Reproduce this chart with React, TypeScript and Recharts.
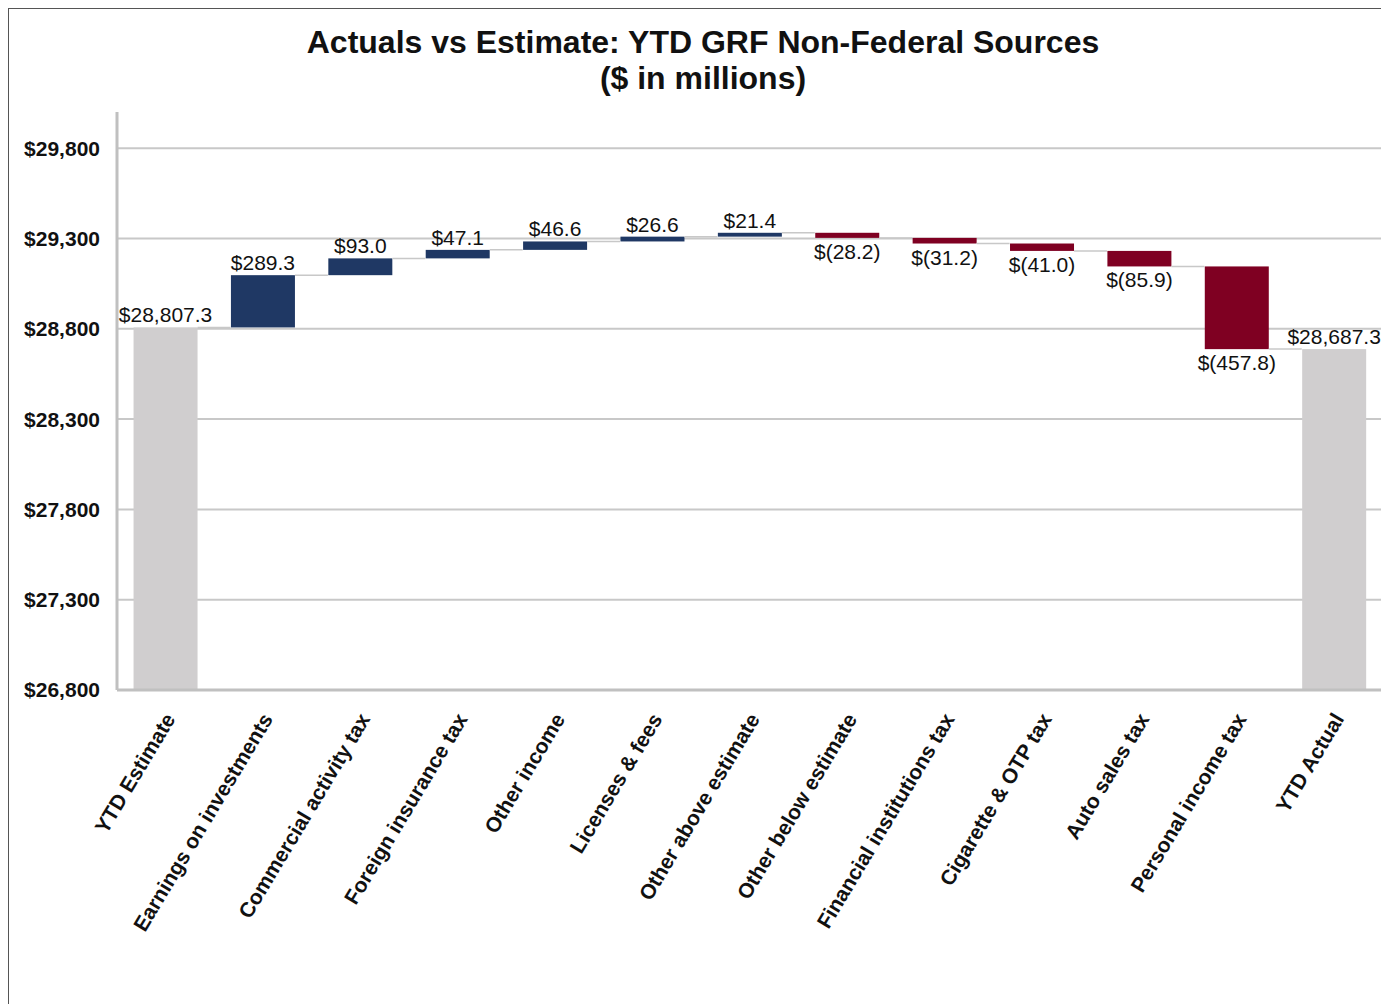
import React from 'react';
import { BarChart, Bar, XAxis, YAxis, CartesianGrid, LabelList, Cell } from 'recharts';

const categories = [
  'YTD Estimate',
  'Earnings on investments',
  'Commercial activity tax',
  'Foreign insurance tax',
  'Other income',
  'Licenses & fees',
  'Other above estimate',
  'Other below estimate',
  'Financial institutions tax',
  'Cigarette & OTP tax',
  'Auto sales tax',
  'Personal income tax',
  'YTD Actual',
];

// first and last are totals, the rest are changes
const values = [28807.3, 289.3, 93.0, 47.1, 46.6, 26.6, 21.4, -28.2, -31.2, -41.0, -85.9, -457.8, 28687.3];
const isTotal = [true, false, false, false, false, false, false, false, false, false, false, false, true];

const yTicks = [26800, 27300, 27800, 28300, 28800, 29300, 29800];

const TOTAL_COLOR = '#d0cecf';
const UP_COLOR = '#1f3864';
const DOWN_COLOR = '#7f0022';
const BAND_GAP = 0.17;
const FONT = 'Liberation Sans, Arial, sans-serif';

function buildData() {
  let running = 0;
  return categories.map((name, i) => {
    const v = values[i];
    let low: number;
    let high: number;
    if (isTotal[i]) {
      low = 26800;
      high = v;
      running = v;
    } else {
      const start = running;
      running = start + v;
      low = Math.min(start, running);
      high = Math.max(start, running);
    }
    return { name, value: v, total: isTotal[i], range: [low, high], last: i === categories.length - 1 };
  });
}

const data = buildData();

function fmt(v: number, total: boolean) {
  const s = Math.abs(v).toLocaleString('en-US', { minimumFractionDigits: 1, maximumFractionDigits: 1 });
  if (total || v >= 0) return '$' + s;
  return '$(' + s + ')';
}

const WaterfallShape = (props: any) => {
  const { x, y, width, height, payload, fill } = props;
  const up = payload.total || payload.value >= 0;
  const endY = up ? y : y + height;
  const gap = (width * 2 * BAND_GAP) / (1 - 2 * BAND_GAP);
  // totals sink a little below the axis line, like the original
  const extra = payload.total ? 4 : 0;
  return (
    <g>
      <rect x={x} y={y} width={width} height={height + extra} fill={fill} />
      {!payload.last && (
        <line x1={x + width} x2={x + width + gap} y1={endY} y2={endY} stroke="#c8c8c8" strokeWidth={1.5} />
      )}
    </g>
  );
};

const ValueLabel = (props: any) => {
  const { x, y, width, height, index } = props;
  const d = data[index];
  const up = d.total || d.value >= 0;
  const ty = up ? y - 5 : y + height + 21;
  return (
    <text x={x + width / 2} y={ty} textAnchor="middle" fontSize={21} fontFamily={FONT} fill="#111">
      {fmt(d.value, d.total)}
    </text>
  );
};

const XTick = (props: any) => {
  const { x, y, payload } = props;
  const tx = x + 4;
  const ty = y + 17;
  return (
    <text
      x={tx}
      y={ty}
      transform={`rotate(-59, ${tx}, ${ty})`}
      textAnchor="end"
      dominantBaseline="central"
      fontSize={21}
      fontWeight="bold"
      fontFamily={FONT}
      fill="#111"
    >
      {payload.value}
    </text>
  );
};

export default function App() {
  return (
    <div
      style={{
        position: 'relative',
        width: 1390,
        height: 1000,
        border: '1px solid #555',
        background: '#fff',
        fontFamily: FONT,
        overflow: 'hidden',
      }}
    >
      <div
        style={{
          position: 'absolute',
          left: 0,
          width: 1389,
          top: 15,
          textAlign: 'center',
          fontWeight: 'bold',
          fontSize: 32,
          lineHeight: '36px',
          color: '#111',
        }}
      >
        <div style={{ width: 1190, marginLeft: 99 }}>Actuals vs Estimate: YTD GRF Non-Federal Sources</div>
        <div style={{ width: 1190, marginLeft: 99 }}>($ in millions)</div>
      </div>
      <div style={{ position: 'absolute', left: 0, top: 0 }}>
        <BarChart
          width={1380}
          height={960}
          data={data}
          margin={{ top: 103, right: 6, bottom: 0, left: 0 }}
          barCategoryGap={`${BAND_GAP * 100}%`}
        >
          <CartesianGrid vertical={false} horizontalValues={yTicks} stroke="#c8c8c8" strokeWidth={2} />
          <XAxis
            dataKey="name"
            interval={0}
            height={279}
            tick={<XTick />}
            tickLine={false}
            axisLine={{ stroke: '#c0c0c0', strokeWidth: 3 }}
          />
          <YAxis
            domain={[26800, 30000]}
            ticks={yTicks}
            allowDataOverflow
            width={108}
            tickSize={0}
            tickMargin={17}
            tickLine={false}
            axisLine={{ stroke: '#c0c0c0', strokeWidth: 3 }}
            tickFormatter={(v: number) => '$' + v.toLocaleString('en-US')}
            tick={{ fontSize: 21, fontWeight: 'bold', fill: '#111', fontFamily: FONT }}
          />
          <Bar dataKey="range" isAnimationActive={false} shape={<WaterfallShape />}>
            {data.map((d, i) => (
              <Cell key={i} fill={d.total ? TOTAL_COLOR : d.value >= 0 ? UP_COLOR : DOWN_COLOR} />
            ))}
            <LabelList dataKey="range" content={<ValueLabel />} />
          </Bar>
        </BarChart>
      </div>
    </div>
  );
}
